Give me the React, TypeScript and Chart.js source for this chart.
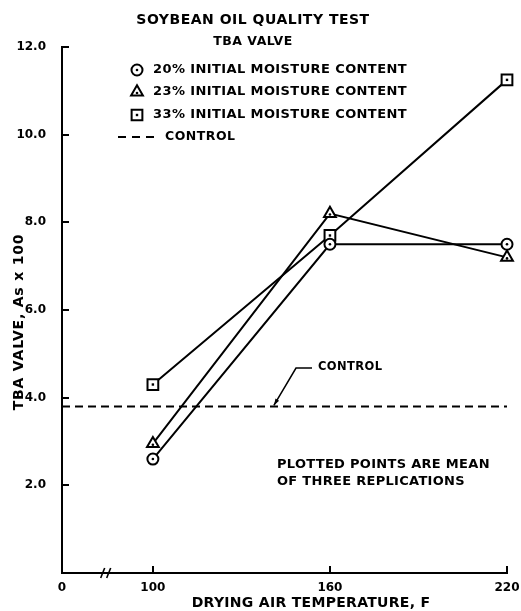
import React, { useEffect, useRef } from "react";
import { Chart, registerables } from "chart.js";

Chart.register(...registerables);

// ---- data ----
const temperatures = [100, 160, 220];
const tba20 = [2.6, 7.5, 7.5];
const tba23 = [2.95, 8.2, 7.2];
const tba33 = [4.3, 7.7, 11.25];
const controlValue = 3.8;
const seriesLabels = [
  "20% INITIAL MOISTURE CONTENT",
  "23% INITIAL MOISTURE CONTENT",
  "33% INITIAL MOISTURE CONTENT",
  "CONTROL",
];
const yTickValues = [2, 4, 6, 8, 10, 12];
const xTickValues = [100, 160, 220];
const xOriginLabel = "0";
const xOrigin = 69.2; // where the broken axis begins (printed "0")
const xBreak = 84; // position of the axis break marks
const titleLines = ["SOYBEAN OIL QUALITY TEST", "TBA VALVE"];
const noteLines = ["PLOTTED POINTS ARE MEAN", "OF THREE REPLICATIONS"];
const xTitle = "DRYING AIR TEMPERATURE, F";
const yTitle = "TBA VALVE, As x 100";

const FONT = '"DejaVu Sans", "Liberation Sans", Arial, sans-serif';

const markerStyles = ["circle", "triangle", "rect"];
const markerRadii = [5.5, 6.8, 7.6];

function drawMarker(ctx: CanvasRenderingContext2D, kind: string, r: number, x: number, y: number) {
  ctx.save();
  ctx.lineWidth = 2;
  ctx.strokeStyle = "#000";
  ctx.fillStyle = "#fff";
  ctx.beginPath();
  if (kind === "circle") {
    ctx.arc(x, y, r, 0, Math.PI * 2);
  } else if (kind === "triangle") {
    for (let k = 0; k < 3; k++) {
      const a = (k * 2 * Math.PI) / 3;
      const px = x + Math.sin(a) * r;
      const py = y - Math.cos(a) * r;
      if (k === 0) ctx.moveTo(px, py);
      else ctx.lineTo(px, py);
    }
    ctx.closePath();
  } else {
    const s = Math.SQRT1_2 * r;
    ctx.rect(x - s, y - s, 2 * s, 2 * s);
  }
  ctx.fill();
  ctx.stroke();
  ctx.restore();
  drawDot(ctx, kind, x, y);
}

function drawDot(ctx: CanvasRenderingContext2D, kind: string, x: number, y: number) {
  ctx.save();
  ctx.fillStyle = "#000";
  if (kind === "rect") {
    ctx.fillRect(x - 1.2, y - 1.2, 2.4, 2.4);
  } else {
    ctx.beginPath();
    ctx.arc(x, y + (kind === "triangle" ? 1 : 0), 1.3, 0, Math.PI * 2);
    ctx.fill();
  }
  ctx.restore();
}

function txt(
  ctx: CanvasRenderingContext2D,
  s: string,
  x: number,
  y: number,
  size: number,
  align: CanvasTextAlign = "left",
  spacing = 0.4
) {
  ctx.save();
  ctx.font = `bold ${size}px ${FONT}`;
  ctx.fillStyle = "#000";
  ctx.textBaseline = "middle";
  ctx.textAlign = align;
  (ctx as any).letterSpacing = spacing + "px";
  ctx.fillText(s, x, y);
  ctx.restore();
}

export default function App() {
  const ref = useRef<HTMLCanvasElement | null>(null);

  useEffect(() => {
    document.body.style.margin = "0";
    const canvas = ref.current!;
    const seriesValues = [tba20, tba23, tba33];

    const datasets: any[] = seriesValues.map((vals, i) => ({
      label: seriesLabels[i],
      data: temperatures.map((x, j) => ({ x, y: vals[j] })),
      borderColor: "#000",
      borderWidth: 2,
      pointStyle: markerStyles[i],
      pointRadius: markerRadii[i],
      pointBorderWidth: 2,
      pointBorderColor: "#000",
      pointBackgroundColor: "#fff",
      fill: false,
      tension: 0,
      clip: false,
    }));
    datasets.push({
      label: seriesLabels[3],
      data: [
        { x: xOrigin, y: controlValue },
        { x: temperatures[temperatures.length - 1], y: controlValue },
      ],
      borderColor: "#000",
      borderWidth: 2,
      borderDash: [8, 5],
      pointRadius: 0,
      fill: false,
    });

    const decor = {
      id: "decor",
      afterDatasetsDraw(chart: any) {
        const ctx: CanvasRenderingContext2D = chart.ctx;
        chart.data.datasets.forEach((ds: any, i: number) => {
          if (!ds.pointRadius) return;
          const meta = chart.getDatasetMeta(i);
          meta.data.forEach((pt: any) => drawDot(ctx, ds.pointStyle, pt.x, pt.y));
        });
      },
      afterDraw(chart: any) {
        const ctx: CanvasRenderingContext2D = chart.ctx;
        const xs = chart.scales.x;
        const ys = chart.scales.y;
        const area = chart.chartArea;
        ctx.save();
        ctx.strokeStyle = "#000";
        ctx.lineWidth = 2;
        // inward ticks
        yTickValues.forEach((v) => {
          const py = Math.round(ys.getPixelForValue(v));
          ctx.beginPath();
          ctx.moveTo(area.left, py);
          ctx.lineTo(area.left + 7, py);
          ctx.stroke();
        });
        xTickValues.forEach((v) => {
          const px = Math.round(xs.getPixelForValue(v));
          ctx.beginPath();
          ctx.moveTo(px, area.bottom);
          ctx.lineTo(px, area.bottom - 7);
          ctx.stroke();
        });
        // axis break marks
        const bx = xs.getPixelForValue(xBreak);
        ctx.lineWidth = 1.6;
        [-3, 3].forEach((d) => {
          ctx.beginPath();
          ctx.moveTo(bx + d - 2, area.bottom + 5);
          ctx.lineTo(bx + d + 2, area.bottom - 5);
          ctx.stroke();
        });
        ctx.restore();

        // titles
        txt(ctx, titleLines[0], 253, 20, 14, "center", 0.5);
        txt(ctx, titleLines[1], 253, 42, 12.5, "center", 0.5);

        // legend
        const rows = [70, 92, 115, 137];
        chart.data.datasets.forEach((ds: any, i: number) => {
          const y = rows[i];
          if (ds.pointRadius > 0) {
            drawMarker(ctx, ds.pointStyle, ds.pointRadius, 137, y);
            txt(ctx, ds.label, 153, y, 13, "left", 0.4);
          } else {
            ctx.save();
            ctx.strokeStyle = "#000";
            ctx.lineWidth = 2;
            ctx.setLineDash([8, 6]);
            ctx.beginPath();
            ctx.moveTo(118, y);
            ctx.lineTo(160, y);
            ctx.stroke();
            ctx.restore();
            txt(ctx, ds.label, 165, y, 12.5, "left", 0.5);
          }
        });

        // control annotation with leader
        const cy = ys.getPixelForValue(controlValue);
        const tipX = xs.getPixelForValue(141);
        ctx.save();
        ctx.strokeStyle = "#000";
        ctx.lineWidth = 1.5;
        ctx.beginPath();
        ctx.moveTo(312, 368);
        ctx.lineTo(296, 368);
        ctx.lineTo(tipX, cy - 1);
        ctx.stroke();
        ctx.fillStyle = "#000";
        const ang = Math.atan2(cy - 1 - 368, tipX - 296);
        ctx.beginPath();
        ctx.moveTo(tipX, cy - 1);
        ctx.lineTo(tipX - 7 * Math.cos(ang - 0.3), cy - 1 - 7 * Math.sin(ang - 0.3));
        ctx.lineTo(tipX - 7 * Math.cos(ang + 0.3), cy - 1 - 7 * Math.sin(ang + 0.3));
        ctx.closePath();
        ctx.fill();
        ctx.restore();
        txt(ctx, seriesLabels[3], 318, 367, 11.5, "left", 0.4);

        // note
        txt(ctx, noteLines[0], 277, 465, 13, "left", 0.3);
        txt(ctx, noteLines[1], 277, 482, 13, "left", 0.3);

        // axis titles
        txt(ctx, xTitle, 311, 603, 14, "center", 0.3);
        ctx.save();
        ctx.translate(19, 322);
        ctx.rotate(-Math.PI / 2);
        txt(ctx, yTitle, 0, 0, 14, "center", 0.8);
        ctx.restore();
      },
    };

    const tickFont = { family: FONT, weight: "bold" as const, size: 12 };

    const chart = new Chart(canvas, {
      type: "line",
      data: { datasets },
      options: {
        animation: false,
        responsive: false,
        maintainAspectRatio: false,
        layout: { padding: { top: 47, right: 14, left: 0, bottom: 0 } },
        plugins: {
          legend: { display: false },
          tooltip: { enabled: false },
        },
        scales: {
          x: {
            type: "linear",
            min: xOrigin,
            max: temperatures[temperatures.length - 1],
            afterBuildTicks: (s: any) => {
              s.ticks = [xOrigin, ...xTickValues].map((v) => ({ value: v }));
            },
            afterFit: (s: any) => {
              s.height = 38;
              s.paddingLeft = 0;
              s.paddingRight = 0;
            },
            ticks: {
              callback: (v: any) => (v === xOrigin ? xOriginLabel : String(v)),
              font: tickFont,
              color: "#000",
              padding: 8,
              maxRotation: 0,
              autoSkip: false,
            },
            grid: { display: true, drawOnChartArea: false, drawTicks: false },
            border: { color: "#000", width: 2 },
          },
          y: {
            type: "linear",
            min: 0,
            max: 12,
            afterBuildTicks: (s: any) => {
              s.ticks = yTickValues.map((v) => ({ value: v }));
            },
            afterFit: (s: any) => {
              s.width = 62;
              s.paddingTop = 0;
              s.paddingBottom = 0;
            },
            ticks: {
              callback: (v: any) => Number(v).toFixed(1),
              font: tickFont,
              color: "#000",
              padding: 16,
              autoSkip: false,
            },
            grid: { display: true, drawOnChartArea: false, drawTicks: false },
            border: { color: "#000", width: 2 },
          },
        },
      },
      plugins: [decor],
    } as any);

    return () => chart.destroy();
  }, []);

  return (
    <div style={{ width: 521, height: 611 }}>
      <canvas ref={ref} width={521} height={611} style={{ display: "block" }} />
    </div>
  );
}
